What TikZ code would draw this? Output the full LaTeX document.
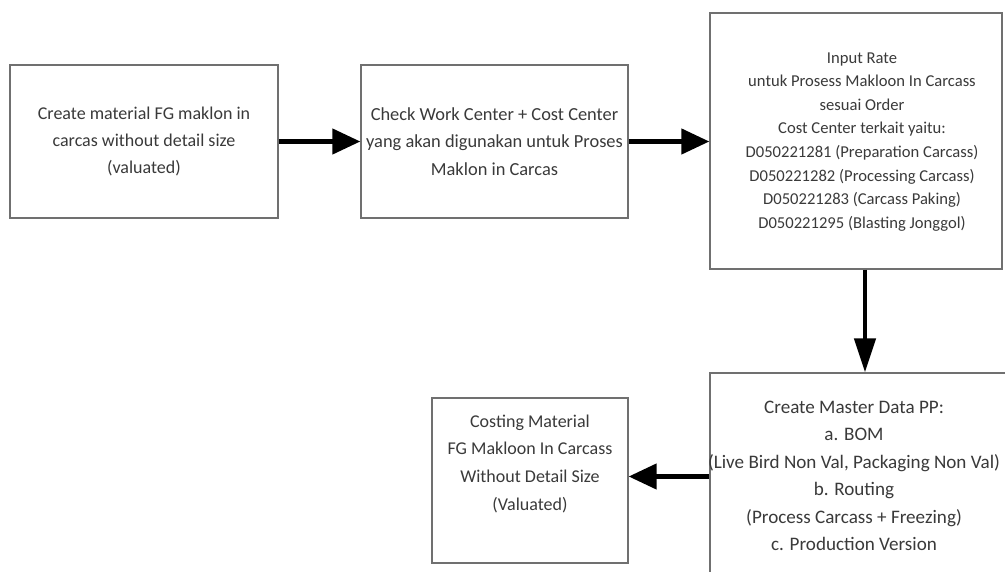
\documentclass[tikz,border=0pt]{standalone}
\usepackage{fontspec}
\setmainfont{Carlito}
\usetikzlibrary{arrows.meta}
\definecolor{boxline}{HTML}{707070}
\definecolor{txt}{HTML}{3A3A3A}
\tikzset{
  box/.style={draw=boxline, line width=1.3pt, fill=white, inner sep=0pt, text=txt,
    font=\fontsize{18}{27}\selectfont},
  boxc/.style={box, align=center},
  flow/.style={line width=4.5pt, black, -{Triangle[length=28pt,width=25pt]}},
  flowv/.style={line width=4.5pt, black, -{Triangle[length=34pt,width=21pt]}}
}
\begin{document}
\begin{tikzpicture}[x=1pt,y=-1pt]
\useasboundingbox (0,0) rectangle (1005,572);
\clip (0,0) rectangle (1005,572);
\node[boxc, minimum width=268pt, minimum height=153pt] (b1) at (144,141.5)
  {Create material FG maklon in\\carcas without detail size\\(valuated)};
\node[boxc, minimum width=267pt, minimum height=153pt, font=\fontsize{18.4}{27.5}\selectfont] (b2) at (494.5,141.5)
  {Check Work Center + Cost Center\\yang akan digunakan untuk Proses\\Maklon in Carcas};
\node[box, minimum width=292pt, minimum height=256pt, font=\fontsize{16.6}{23.6}\selectfont] (b3) at (856,141)
  {\hspace*{12pt}\begin{tabular}{@{}c@{}}Input Rate\\untuk Prosess Makloon In Carcass\\sesuai Order\\Cost Center terkait yaitu:\\D050221281 (Preparation Carcass)\\D050221282 (Processing Carcass)\\D050221283 (Carcass Paking)\\D050221295 (Blasting Jonggol)\end{tabular}};
\node[box, minimum width=310pt, minimum height=207pt, font=\fontsize{19.1}{27.4}\selectfont] (b4) at (865,476.5)
  {\hspace*{-22pt}\begin{tabular}{@{}c@{}}Create Master Data PP:\\a. BOM\\(Live Bird Non Val, Packaging Non Val)\\b. Routing\\(Process Carcass + Freezing)\\c. Production Version\end{tabular}};
\node[boxc, minimum width=196pt, minimum height=165pt, font=\fontsize{18}{27.7}\selectfont] (b5) at (530,480.5)
  {Costing Material\\FG Makloon In Carcass\\Without Detail Size\\(Valuated)\\\strut};
\draw[flow] (b1.east) -- (b2.west);
\draw[flow] (b2.east) -- (b2.east -| b3.west);
\draw[flowv] (b4.north |- b3.south) -- (b4.north);
\draw[flow] (b4.west) -- (b4.west -| b5.east);
\end{tikzpicture}
\end{document}
